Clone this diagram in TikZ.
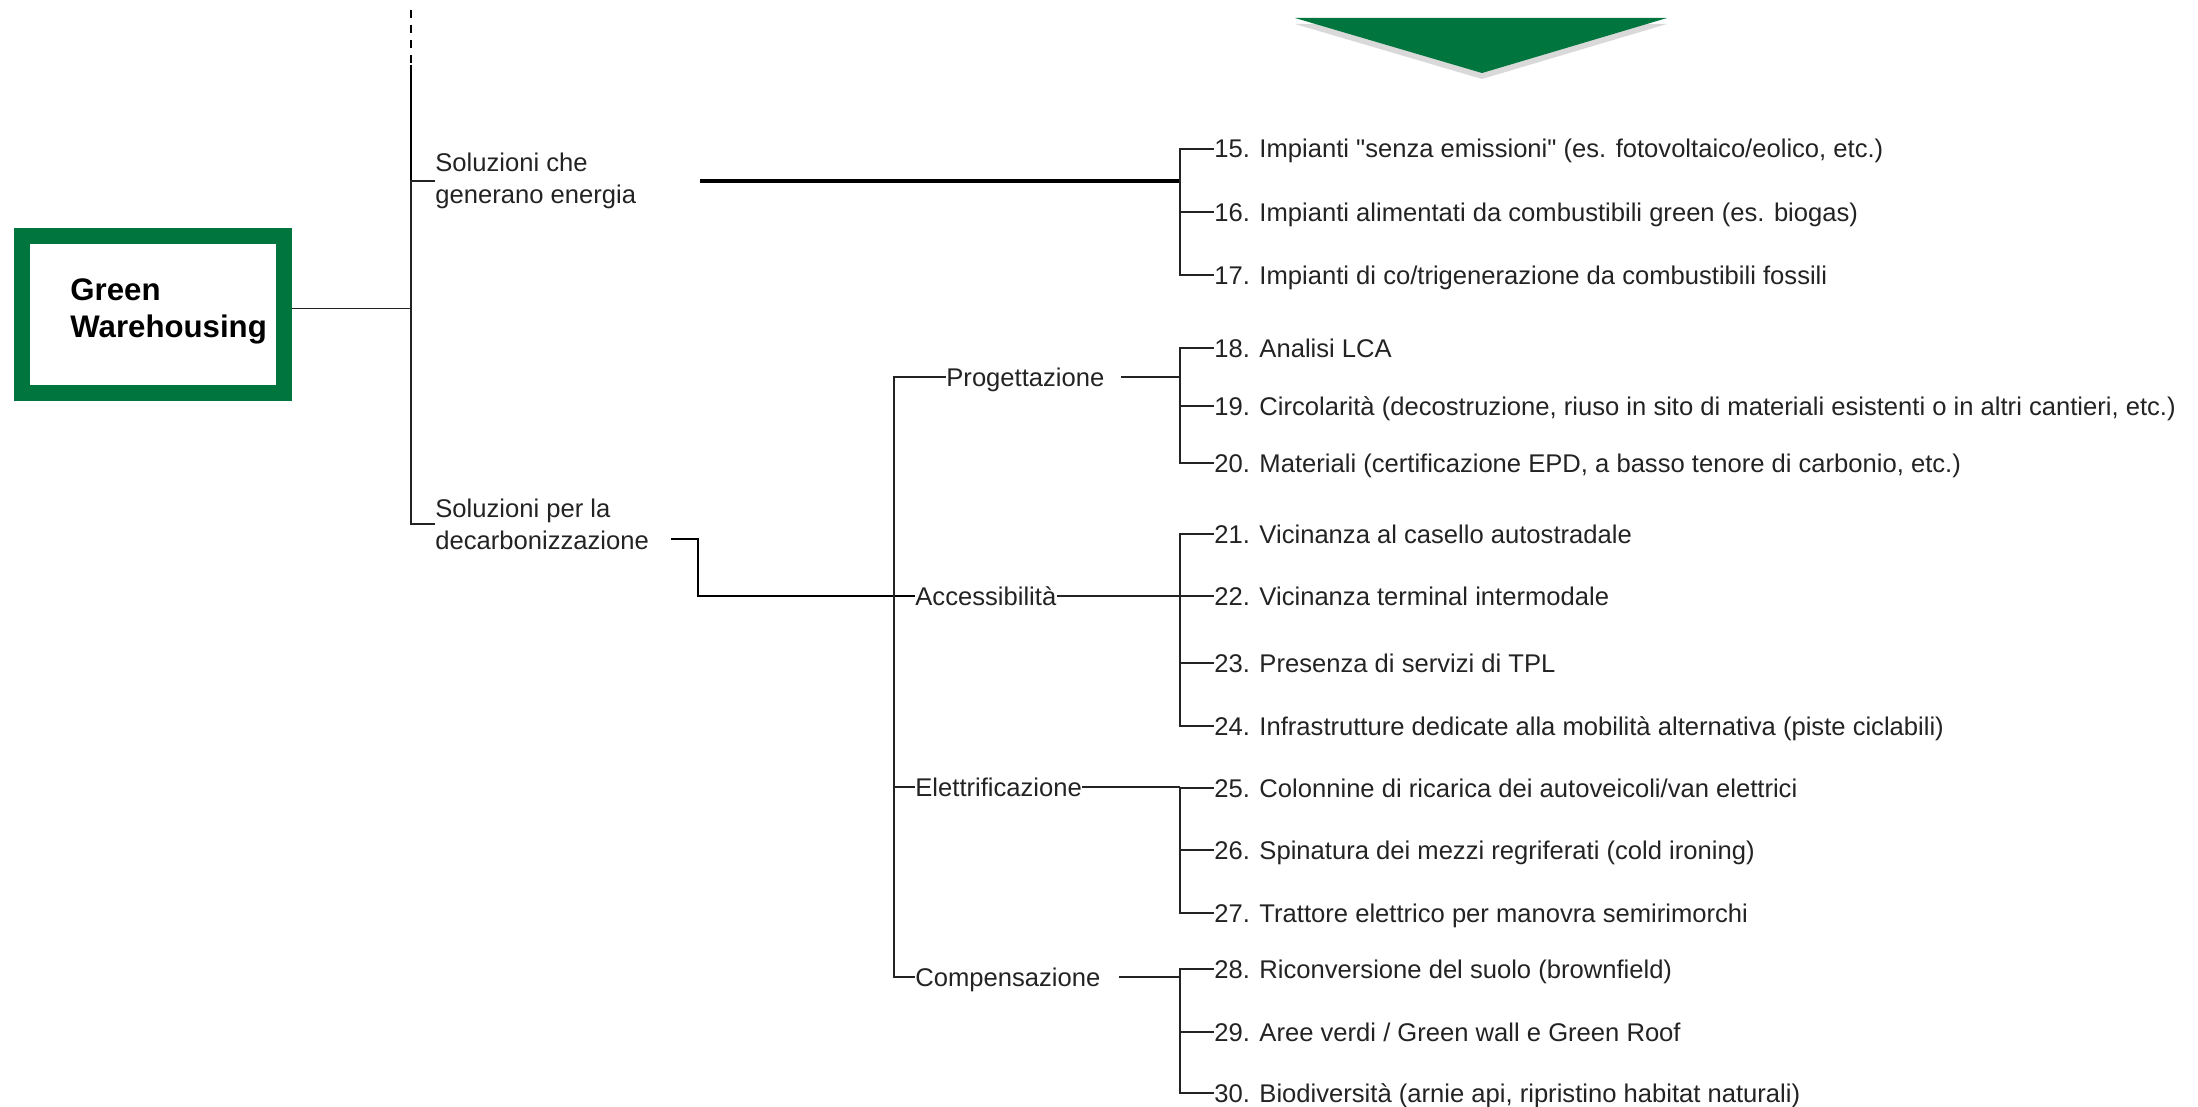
\documentclass[tikz,border=0pt]{standalone}
\usepackage{fontspec}
\setmainfont{Liberation Sans}[Ligatures=TeXOff]
\usetikzlibrary{calc,shadows,positioning}
\definecolor{gwgreen}{RGB}{0,118,62}
\definecolor{ink}{RGB}{35,35,35}

\begin{document}
\begin{tikzpicture}[x=0.5pt, y=-0.5pt, font=\fontsize{12.8}{16}\selectfont,
		lbl/.style={anchor=west, inner sep=0pt, text=ink, align=left},
		entry/.style={anchor=west, inner sep=0pt, text=ink, text height=9.5pt, text depth=0.5pt},
		conn/.style={draw=ink, line width=0.8pt},
		heavy/.style={draw=black, line width=1.8pt}]
	\useasboundingbox (0,0) rectangle (2198,1107);
	\def\xa{411}   % main trunk
	\def\xb{894}   % trunk of the themes
	\def\xc{1180}  % brackets of the measures
	\def\xt{1214}  % left edge of the measures
	\coordinate (ta) at (\xa,0);
	\coordinate (tb) at (\xb,0);
	\coordinate (bx) at (\xc,0);
	% green arrow
	\fill[gwgreen, drop shadow={shadow xshift=0pt, shadow yshift=-3pt, opacity=0.3}]
		(1295,18) -- (1667,18) -- (1482,73) -- cycle;
	% root
	\node[draw=gwgreen, line width=8pt, inner sep=0pt, minimum width=131pt, minimum height=78.5pt]
		(gwbox) at (153,314.5) {};
	\node[anchor=west, inner sep=0pt, align=left, font=\fontsize{15.6}{18.2}\selectfont\bfseries]
		(gw) at ([xshift=28pt,yshift=1.5pt]gwbox.west) {Green\\Warehousing};
	\coordinate (hub) at ([yshift=1.5pt]gw.east);
	% first level
	\node[lbl] (solA) at (435,181) {Soluzioni che\\generano energia};
	\node[lbl] (solB) at (435,524) {Soluzioni per la\\decarbonizzazione};
	\draw[black, line width=1.2pt, dash pattern=on 4pt off 3.5pt] (\xa,10) -- (\xa,65);
	\draw[black, line width=1.2pt] (\xa,65) -- (ta |- solA.west);
	\draw[conn] (solA.west) -| (ta |- solB.west) -- (solB.west);
	\draw[conn] (gwbox.east |- hub) -- (hub -| ta);
	% themes
	\node[entry] (prog) at (946,377) {Progettazione};
	\node[entry] (acc) at (915,596) {Accessibilità};
	\node[entry] (elet) at (915,787) {Elettrificazione};
	\node[entry] (comp) at (915,977) {Compensazione};
	\draw[draw=black, line width=1.1pt] ([xshift=11pt,yshift=-7.5pt]solB.east) -- ++(27,0) |- (acc.west);
	\draw[conn] (prog.west) -| (tb |- comp.west) -- (comp.west);
	\draw[conn] (tb |- elet.west) -- (elet.west);
	% to the brackets
	\draw[heavy, shorten <=31.5pt] (solA.east) -- (bx |- solA.east);
	\draw[conn, shorten <=8pt] (prog.east) -- (bx |- prog.east);
	\draw[conn] (acc.east) -- (bx |- acc.east);
	\draw[conn] (elet.east) -- (bx |- elet.east);
	\draw[conn, shorten <=9pt] (comp.east) -- (bx |- comp.east);
	% numbered measures
	\foreach \n/\y/\txt in {
		15/149/{Impianti "senza emissioni" (es. fotovoltaico/eolico, etc.)},
		16/212/{Impianti alimentati da combustibili green (es. biogas)},
		17/275/{Impianti di co/trigenerazione da combustibili fossili},
		18/348/{Analisi LCA},
		19/406/{Circolarità (decostruzione, riuso in sito di materiali esistenti o in altri cantieri, etc.)},
		20/463/{Materiali (certificazione EPD, a basso tenore di carbonio, etc.)},
		21/534/{Vicinanza al casello autostradale},
		22/596/{Vicinanza terminal intermodale},
		23/663/{Presenza di servizi di TPL},
		24/726/{Infrastrutture dedicate alla mobilità alternativa (piste ciclabili)},
		25/788/{Colonnine di ricarica dei autoveicoli/van elettrici},
		26/850/{Spinatura dei mezzi regriferati (cold ironing)},
		27/913/{Trattore elettrico per manovra semirimorchi},
		28/969/{Riconversione del suolo (brownfield)},
		29/1032/{Aree verdi / Green wall e Green Roof},
		30/1093/{Biodiversità (arnie api, ripristino habitat naturali)}}{
		\node[entry] (m\n) at (\xt,\y) {\n. \txt};
		\draw[conn] (bx |- m\n.west) -- (m\n.west);
	}
	\foreach \a/\b in {15/17,18/20,21/24,25/27,28/30}
		\draw[conn] (m\a.west) -| (bx |- m\b.west) -- (m\b.west);
\end{tikzpicture}
\end{document}
